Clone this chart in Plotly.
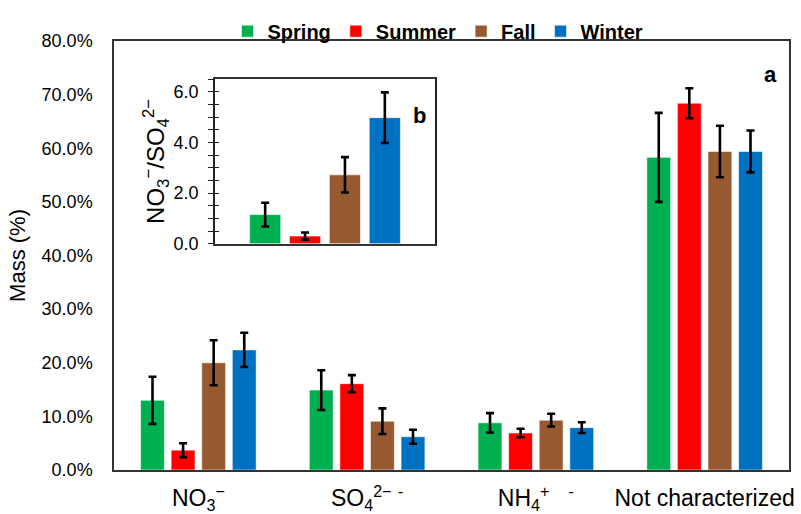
import plotly.graph_objects as go

# Mass fractions (%) by component and season
components = [
    "NO<sub>3</sub><sup>−</sup>",
    "SO<sub>4</sub><sup>2−</sup>\u00a0<sup>-</sup>",
    "NH<sub>4</sub><sup>+</sup>\u00a0\u00a0\u00a0<sup>-</sup>",
    "Not characterized",
]
seasons = ["Spring", "Summer", "Fall", "Winter"]
colors = ["#00B050", "#FF0000", "#975A30", "#0070C0"]

spring = [13.0, 14.9, 8.8, 58.3]
summer = [3.7, 16.1, 6.9, 68.4]
fall = [20.0, 9.1, 9.3, 59.4]
winter = [22.4, 6.2, 7.9, 59.4]

spring_err = [4.4, 3.7, 1.8, 8.3]
summer_err = [1.3, 1.6, 0.8, 2.8]
fall_err = [4.2, 2.4, 1.2, 4.8]
winter_err = [3.2, 1.3, 1.0, 3.9]

# NO3-/SO4 2- ratio by season (inset b)
ratio = [1.15, 0.30, 2.72, 4.98]
ratio_err = [0.47, 0.14, 0.70, 1.00]

main_values = [spring, summer, fall, winter]
main_errors = [spring_err, summer_err, fall_err, winter_err]

FONT = "Liberation Sans, Arial, sans-serif"

fig = go.Figure()

for name, vals, errs, col in zip(seasons, main_values, main_errors, colors):
    fig.add_trace(go.Bar(
        name=name, x=components, y=vals,
        marker=dict(color=col, line=dict(color="rgba(255,255,255,0.55)", width=1)),
        error_y=dict(type="data", array=errs, color="black", thickness=2.6, width=4),
        xaxis="x", yaxis="y",
    ))

for name, val, err, col in zip(seasons, ratio, ratio_err, colors):
    fig.add_trace(go.Bar(
        name=name, x=["ratio"], y=[val], showlegend=False,
        marker=dict(color=col, line=dict(color="rgba(255,255,255,0.55)", width=1)),
        error_y=dict(type="data", array=[err], color="black", thickness=2.6, width=4),
        xaxis="x2", yaxis="y2",
    ))

# invisible trace that carries the inner tick marks of the inset axis
fig.add_trace(go.Scatter(x=["ratio"], y=[None], xaxis="x2", yaxis="y3",
                         showlegend=False, hoverinfo="skip", mode="markers"))

fig.update_layout(
    width=801, height=514,
    margin=dict(l=114, r=12, t=34, b=44),
    paper_bgcolor="white", plot_bgcolor="white",
    font=dict(family=FONT, color="black"),
    barmode="group", bargap=0.275, bargroupgap=0.22,
    legend=dict(
        orientation="h", x=0.48, xanchor="center", y=1.023, yanchor="middle",
        font=dict(size=20, family=FONT, weight="bold"),
        itemwidth=30, tracegroupgap=0, bgcolor="rgba(0,0,0,0)",
    ),
    xaxis=dict(
        domain=[0, 1], showline=True, linecolor="#333333", linewidth=1.5, mirror=True,
        ticks="", tickfont=dict(size=23), ticklabelstandoff=7, automargin=False,
    ),
    yaxis=dict(
        domain=[0, 1], range=[0, 80], dtick=10, tickformat=".1f", ticksuffix="%",
        showgrid=False, zeroline=False, showline=True, linecolor="#333333",
        linewidth=1.5, mirror=True, ticks="", tickfont=dict(size=18),
        ticklabelstandoff=16, automargin=False,
        title=dict(text="Mass (%)", font=dict(size=22), standoff=10),
    ),
    xaxis2=dict(
        domain=[0.1496, 0.4756], anchor="y2", showline=True, linecolor="#333333",
        linewidth=1.5, mirror=True, ticks="", showticklabels=False, automargin=False,
    ),
    yaxis2=dict(
        domain=[0.5275, 0.911], anchor="x2", range=[0, 6.5],
        tickvals=[0, 2, 4, 6], tickformat=".1f", showgrid=False, zeroline=False,
        showline=True, linecolor="#222222", linewidth=1.5, mirror=True,
        ticks="outside", ticklen=5, tickwidth=1.3, tickcolor="#222222",
        minor=dict(dtick=0.5, ticks="outside", ticklen=5, tickwidth=1.3, tickcolor="#222222"),
        tickfont=dict(size=18), ticklabelstandoff=6, automargin=False,
        title=dict(text="NO<sub>3</sub><sup>−</sup>/SO<sub>4</sub><sup>2−</sup>",
                   font=dict(size=24), standoff=2),
    ),
    yaxis3=dict(
        overlaying="y2", anchor="x2", side="left", range=[0, 6.5], dtick=0.5,
        ticks="inside", ticklen=4, tickwidth=1.3, tickcolor="#222222",
        showticklabels=False, showgrid=False, zeroline=False, showline=False,
        automargin=False,
    ),
    annotations=[
        dict(text="<b>a</b>", x=0.985, y=0.956, xref="paper", yref="paper",
             showarrow=False, font=dict(size=22)),
        dict(text="<b>b</b>", x=0.453, y=0.860, xref="paper", yref="paper",
             showarrow=False, font=dict(size=22)),
    ],
)

fig.write_html("out.html")
